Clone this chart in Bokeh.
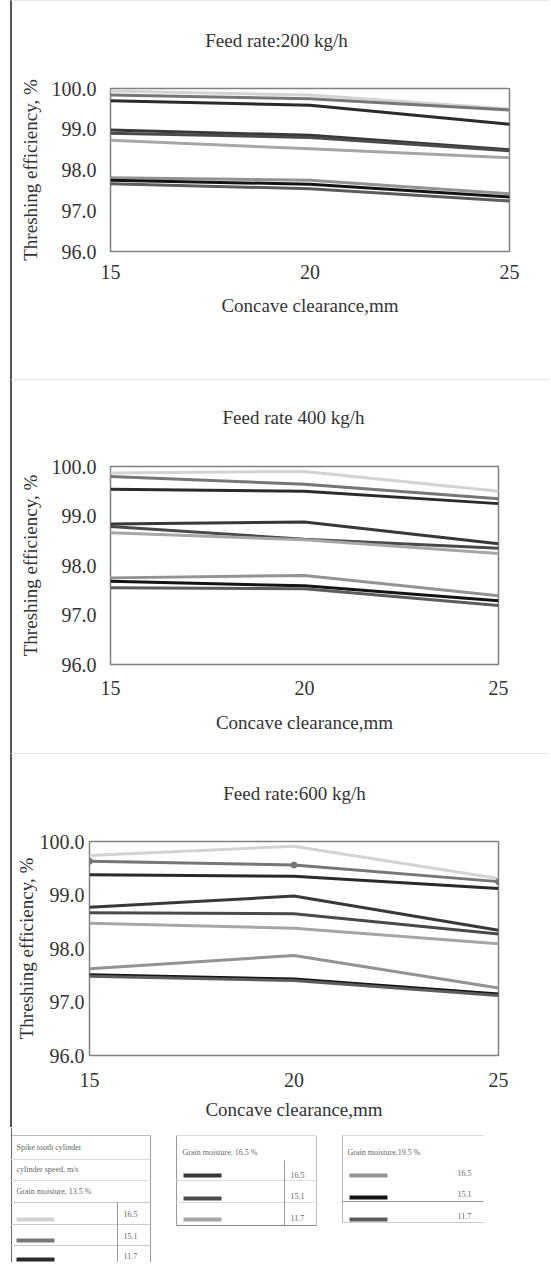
from bokeh.plotting import figure
from bokeh.models import Range1d, FixedTicker, PrintfTickFormatter, LinearAxis
from bokeh.core.properties import value
from bokeh.embed import file_html
from bokeh.resources import INLINE

# ---------------- data ----------------
clearance = [15, 20, 25]
speeds = ["16.5", "15.1", "11.7"]
moisture = ["13.5 %", "16.5 %", "19.5 %"]
feed_titles = ["Feed rate:200 kg/h", "Feed rate 400 kg/h", "Feed rate:600 kg/h"]
y_ticks = [96, 97, 98, 99, 100]

# rows: cylinder speed 16.5, 15.1, 11.7 m/s ; columns: clearance 15, 20, 25 mm
eff200_m135 = [[99.94, 99.84, 99.50], [99.84, 99.75, 99.47], [99.70, 99.59, 99.12]]
eff200_m165 = [[98.98, 98.85, 98.50], [98.90, 98.80, 98.47], [98.73, 98.52, 98.30]]
eff200_m195 = [[97.81, 97.75, 97.42], [97.75, 97.65, 97.34], [97.66, 97.54, 97.24]]

eff400_m135 = [[99.87, 99.90, 99.50], [99.80, 99.64, 99.35], [99.54, 99.50, 99.25]]
eff400_m165 = [[98.84, 98.88, 98.44], [98.79, 98.53, 98.35], [98.66, 98.52, 98.24]]
eff400_m195 = [[97.75, 97.80, 97.39], [97.68, 97.59, 97.29], [97.55, 97.53, 97.19]]

eff600_m135 = [[99.74, 99.91, 99.31], [99.63, 99.56, 99.25], [99.38, 99.35, 99.12]]
eff600_m165 = [[98.77, 98.98, 98.34], [98.67, 98.65, 98.27], [98.47, 98.38, 98.09]]
eff600_m195 = [[97.62, 97.87, 97.26], [97.51, 97.43, 97.15], [97.48, 97.40, 97.12]]

colors_m135 = ["#d3d3d3", "#767676", "#2b2b2b"]
colors_m165 = ["#383838", "#4a4a4a", "#a6a6a6"]
colors_m195 = ["#939393", "#141414", "#5c5c5c"]

FONT = "Liberation Serif"
X0 = 12          # page x where each chart canvas begins (after margin + border)
W = 551 - X0

# layout in page pixels
panels = [
    dict(title=feed_titles[0], groups=[eff200_m135, eff200_m165, eff200_m195],
         fl=110, fr=509, ft=87, fh=163, h=379, tcx=276, tstand=38,
         ylab_stand=8, ytick_stand=14, xtick_stand=13, xlab_stand=13),
    dict(title=feed_titles[1], groups=[eff400_m135, eff400_m165, eff400_m195],
         fl=110, fr=498, ft=86, fh=198, h=374, tcx=293, tstand=39,
         ylab_stand=8, ytick_stand=14, xtick_stand=16, xlab_stand=14),
    dict(title=feed_titles[2], groups=[eff600_m135, eff600_m165, eff600_m195],
         fl=89, fr=498, ft=87, fh=214, h=374, tcx=294, tstand=38,
         ylab_stand=0, ytick_stand=5, xtick_stand=17, xlab_stand=9),
]
group_colors = [colors_m135, colors_m165, colors_m195]


def plain_axis(ax):
    ax.axis_line_color = None
    ax.major_tick_line_color = None
    ax.minor_tick_line_color = None
    ax.major_tick_out = 0
    ax.major_tick_in = 0
    ax.major_label_text_font = FONT
    ax.major_label_text_color = "#333333"
    ax.axis_label_text_font = FONT
    ax.axis_label_text_font_size = "19px"
    ax.axis_label_text_font_style = "normal"
    ax.axis_label_text_color = "#333333"


roots = []
for i, cfg in enumerate(panels):
    p = figure(width=W, height=cfg["h"], x_range=Range1d(15, 25), y_range=Range1d(96, 100),
               output_backend="svg", toolbar_location=None,
               min_border_left=cfg["fl"] - X0, min_border_right=W - (cfg["fr"] - X0),
               min_border_top=cfg["ft"], min_border_bottom=cfg["h"] - cfg["ft"] - cfg["fh"],
               styles={"margin-left": "10px", "border-left": "2px solid #555555",
                       "border-top": "1px solid #e6e6e6"})
    p.grid.visible = False
    p.outline_line_color = "#808080"
    p.outline_line_width = 1.5
    p.background_fill_color = "white"
    p.border_fill_color = "white"

    xax = p.below[0]
    yax = p.left[0]
    xax.ticker = FixedTicker(ticks=clearance)
    yax.ticker = FixedTicker(ticks=y_ticks)
    yax.formatter = PrintfTickFormatter(format="%.1f")
    for ax in (xax, yax):
        plain_axis(ax)
        ax.major_label_text_font_size = "20px"
    xax.axis_label = "Concave clearance,mm"
    yax.axis_label = "Threshing efficiency, %"
    xax.major_label_standoff = cfg["xtick_stand"]
    yax.major_label_standoff = cfg["ytick_stand"]
    xax.axis_label_standoff = cfg["xlab_stand"]
    yax.axis_label_standoff = cfg["ylab_stand"]

    # chart title: a tick-less axis above the frame carrying one labelled position
    p.extra_x_ranges = {"ttl": Range1d(cfg["fl"], cfg["fr"])}
    tax = LinearAxis(x_range_name="ttl", ticker=FixedTicker(ticks=[cfg["tcx"]]),
                     major_label_overrides={cfg["tcx"]: cfg["title"]})
    plain_axis(tax)
    tax.major_label_text_font_size = "19px"
    tax.major_label_standoff = cfg["tstand"]
    p.add_layout(tax, "above")

    for g, (grp, cols) in enumerate(zip(cfg["groups"], group_colors)):
        for s, (vals, col) in enumerate(zip(grp, cols)):
            p.line(clearance, vals, line_color=col, line_width=3)
            if i == 2 and g == 0 and s == 1:
                p.scatter(clearance, vals, size=6, fill_color=col, line_color=col)
    roots.append(p)

# ---------------- legend (table) ----------------
LY0, LH = 1130, 135
LW = 551
leg = figure(width=LW, height=LH, x_range=Range1d(0, LW), y_range=Range1d(LY0 + LH, LY0),
             output_backend="svg", toolbar_location=None, min_border=0)
leg.axis.visible = False
leg.grid.visible = False
leg.outline_line_color = None

hx0 = [10, 11, 150, 10, 10, 10, 10, 10, 117,
       176, 176, 316, 176, 176, 176, 284,
       342, 342, 342, 342]
hy0 = [1138, 1130, 1138, 1162, 1183, 1205, 1227, 1248, 1205,
       1138, 1138, 1138, 1183, 1205, 1228, 1163,
       1138, 1138, 1204, 1225]
hx1 = [150, 11, 150, 150, 150, 150, 150, 150, 117,
       316, 176, 316, 316, 316, 316, 284,
       483, 342, 483, 483]
hy1 = [1138, 1265, 1265, 1162, 1183, 1205, 1227, 1248, 1265,
       1138, 1228, 1228, 1183, 1205, 1228, 1228,
       1138, 1225, 1204, 1225]
lcol = ["#bbbbbb", "#666666", "#999999", "#dddddd", "#dddddd", "#cccccc", "#cccccc", "#cccccc", "#999999",
        "#dddddd", "#999999", "#bbbbbb", "#dddddd", "#dddddd", "#888888", "#999999",
        "#dddddd", "#bbbbbb", "#999999", "#cccccc"]
leg.segment(x0=hx0, y0=hy0, x1=hx1, y1=hy1, line_color=lcol, line_width=1)

sw_x = [16, 183, 349]
sw_y = [[1222, 1243, 1262], [1178, 1201, 1222], [1178, 1200, 1222]]
for t in range(3):
    for s in range(3):
        leg.rect(x=[sw_x[t] + 19], y=[sw_y[t][s]], width=38, height=4,
                 fill_color=group_colors[t][s], line_color=None)

head_x = [16, 16, 16, 182, 347]
head_y = [1150, 1172, 1194, 1155, 1155]
head_t = ["Spike tooth cylinder", "cylinder speed, m/s", "Grain moisture, " + moisture[0],
          "Grain moisture, " + moisture[1], "Grain moisture," + moisture[2]]
leg.text(x=head_x, y=head_y, text=head_t, text_font=value(FONT), text_font_size="8px",
         text_color="#666666", text_baseline="middle")
lab_x = [[123, 123, 123], [290, 290, 290], [457, 457, 457]]
lab_y = [[1216, 1238, 1258], [1177, 1198, 1220], [1175, 1196, 1218]]
for t in range(3):
    leg.text(x=lab_x[t], y=lab_y[t], text=speeds, text_font=value(FONT), text_font_size="8px",
             text_color="#666666", text_baseline="middle")
roots.append(leg)

open("out.html", "w").write(file_html(roots, INLINE))
